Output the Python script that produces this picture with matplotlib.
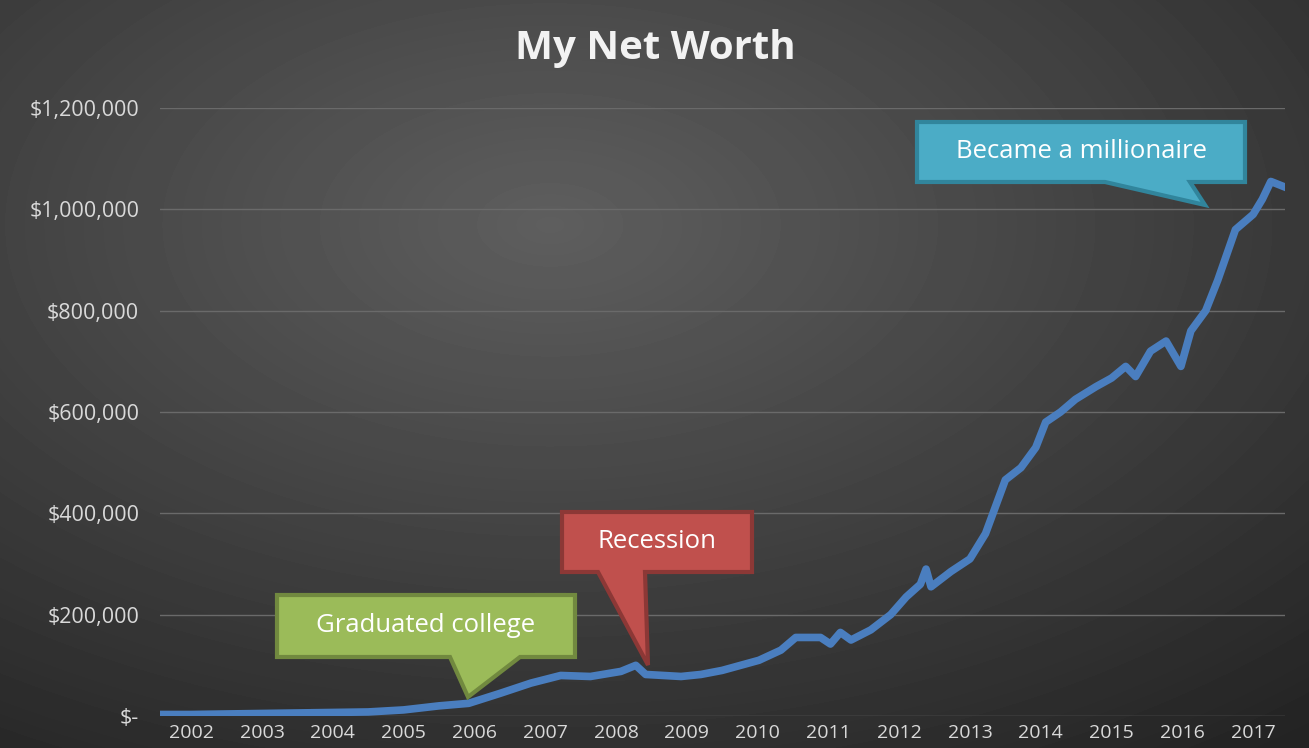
import numpy as np
import matplotlib.pyplot as plt
from matplotlib.patches import Polygon
from matplotlib.ticker import FuncFormatter

plt.rcParams['font.family'] = ['Open Sans', 'DejaVu Sans']

# net worth readings (decimal year, dollars)
dates = [2002.1, 2002.5, 2003.0, 2003.5, 2004.0, 2004.5, 2005.0, 2005.5,
         2006.0, 2006.42, 2006.87, 2007.3, 2007.72, 2008.14, 2008.57, 2008.78,
         2008.92, 2009.42, 2009.7, 2010.0, 2010.52, 2010.83, 2011.04, 2011.39,
         2011.53, 2011.67, 2011.82, 2012.1, 2012.38, 2012.6, 2012.8, 2012.88,
         2012.95, 2013.23, 2013.5, 2013.72, 2014.0, 2014.22, 2014.43, 2014.57,
         2014.78, 2014.99, 2015.28, 2015.5, 2015.7, 2015.84, 2016.05, 2016.27,
         2016.48, 2016.62, 2016.83, 2017.0, 2017.25, 2017.5, 2017.63, 2017.75,
         2017.93]
worth = [3000, 3000, 4000, 5000, 6000, 7000, 8000, 12000,
         20000, 25000, 45000, 65000, 80000, 78000, 88000, 100000,
         82000, 78000, 82000, 90000, 110000, 130000, 155000, 155000,
         142000, 165000, 150000, 170000, 200000, 235000, 260000, 290000,
         255000, 285000, 310000, 360000, 466000, 490000, 530000, 580000,
         600000, 625000, 650000, 667000, 690000, 670000, 720000, 740000,
         690000, 760000, 800000, 860000, 960000, 990000, 1020000, 1055000,
         1045000]
years = list(range(2002, 2018))

W, H = 1309, 748
fig = plt.figure(figsize=(W / 100, H / 100), dpi=100)

# radial gray background
bg = fig.add_axes([0, 0, 1, 1])
yy, xx = np.mgrid[0:H, 0:W]
r = np.sqrt(((xx - W * 0.42) / W) ** 2 + ((yy - H * 0.3) / H) ** 2)
bg.imshow(np.clip(0.37 - 0.26 * r, 0.14, 0.37), cmap='gray', vmin=0, vmax=1,
          extent=[0, W, H, 0], aspect='auto')
bg.axis('off')

ax = fig.add_axes([160 / W, 1 - 716 / H, (1285 - 160) / W, (716 - 108) / H])
ax.patch.set_alpha(0)
ax.plot(dates, worth, color='#4a7ebf', lw=5.5, solid_joinstyle='round')
ax.set_xlim(2002.06, 2017.95)
ax.set_ylim(0, 1200000)
ax.set_yticks(range(0, 1200001, 200000))
ax.yaxis.set_major_formatter(FuncFormatter(lambda v, p: '$-' if v == 0 else f'${v:,.0f}'))
ax.set_xticks([y + 0.5 for y in years])
ax.set_xticklabels([str(y) for y in years])
ax.grid(axis='y', color='#6a6a6a', lw=1)
ax.set_axisbelow(True)
for s in ax.spines.values():
    s.set_visible(False)
ax.tick_params(length=0, colors='#d9d9d9', labelsize=14)
ax.tick_params(axis='y', labelsize=15.5, pad=15)
ax.tick_params(axis='x', pad=6)

fig.text(655 / W, 1 - 49 / H, 'My Net Worth', ha='center', va='center',
         color='#f2f2f2', fontsize=29, fontweight='bold')


def callout(pts, face, edge, text, cx, cy):
    p = [(x / W, 1 - y / H) for x, y in pts]
    fig.patches.append(Polygon(p, closed=True, transform=fig.transFigure,
                               facecolor=face, edgecolor=edge, lw=3, zorder=5))
    fig.text(cx / W, 1 - cy / H, text, ha='center', va='center', color='white',
             fontsize=18.5, zorder=6)


callout([(277, 595), (575, 595), (575, 657), (520, 657), (468, 697), (450, 657), (277, 657)],
        '#9bbb59', '#71893f', 'Graduated college', 426, 625)
callout([(562, 512), (752, 512), (752, 572), (645, 572), (648, 665), (598, 572), (562, 572)],
        '#c0504d', '#8c3836', 'Recession', 657, 542)
callout([(917, 122), (1245, 122), (1245, 182), (1190, 182), (1205, 205), (1105, 182), (917, 182)],
        '#4bacc6', '#31859c', 'Became a millionaire', 1081, 152)

fig.savefig('out.png', dpi=100)
